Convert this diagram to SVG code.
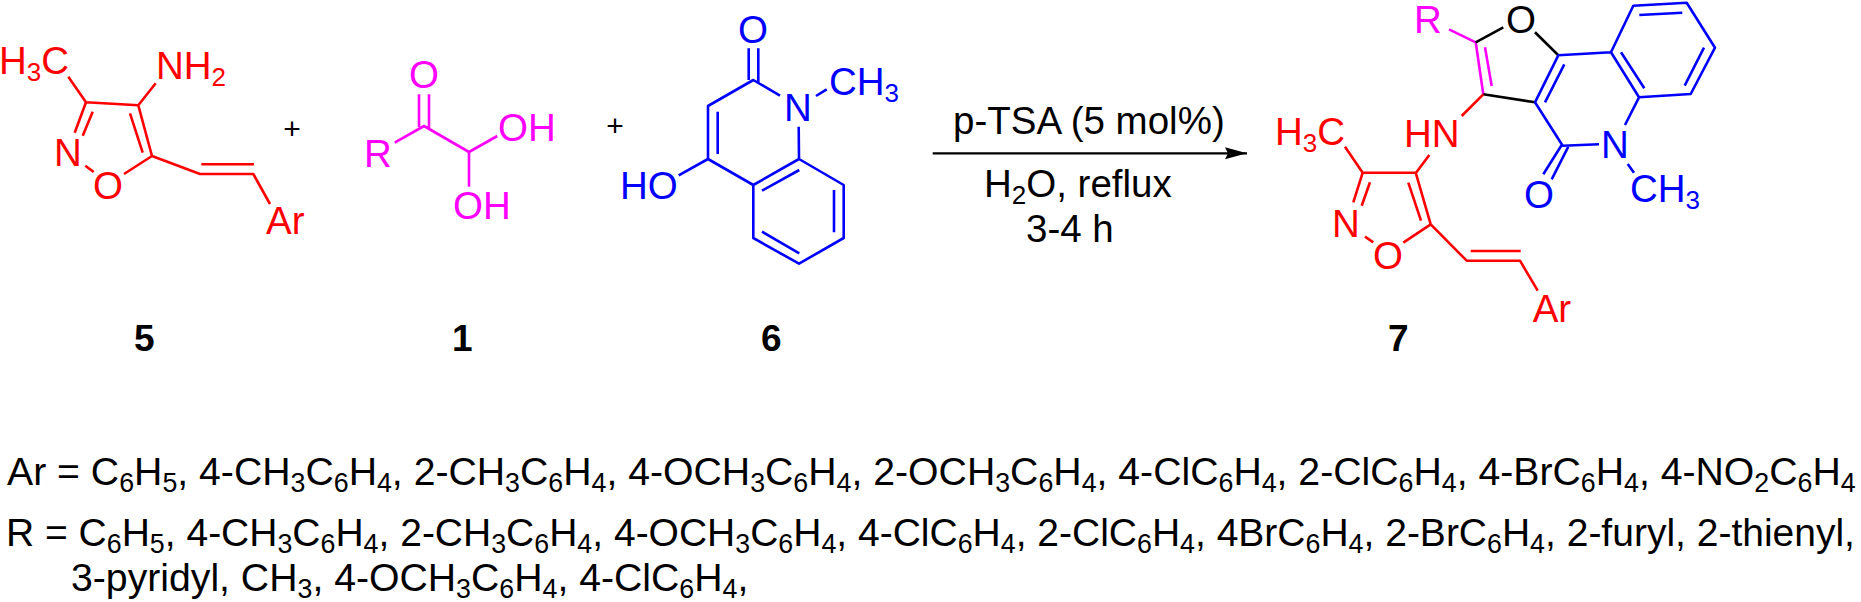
<svg xmlns="http://www.w3.org/2000/svg" width="1861" height="602" viewBox="0 0 1861 602">
<style>
text{font-family:"Liberation Sans",Arial,sans-serif;font-size:38.5px}
.sub{font-size:26px}
.b{stroke-width:2.6;fill:none;stroke-linecap:butt;stroke-linejoin:round}
.red{fill:#f00}.mag{fill:#f0f}.blu{fill:#00f}.blk{fill:#000}
.rs{stroke:#f00}.ms{stroke:#f0f}.bs{stroke:#00f}.ks{stroke:#000}
.num{font-weight:bold;font-size:37px}
.plus{font-size:30px}
.list{font-size:39.2px}
.list2{font-size:39px}
.list .sub,.list2 .sub{font-size:26.8px}
</style>
<defs><marker id="ah" markerUnits="userSpaceOnUse" markerWidth="24" markerHeight="14" refX="22" refY="7" orient="auto"><path d="M0 1L22 7L0 13L3 7Z" fill="#000"/></marker></defs>
<rect width="1861" height="602" fill="#fff"/>
<g id="connectors">
<path class="b rs" d="M86 102.3L138.3 105.3L152 156L124 174M85.3 165.7L93.7 172M86 102.3L74.7 132.7M92.7 111.7L82.7 135.7M130 113.3L142.7 152.7M86 102.3L68.3 76.7M138.3 105.3L155.7 83.3M152 156L200 174L253.3 174L270 204M201.3 164.3L254 164.3"/>
<path class="b ms" d="M419 94.3V127M429 94.3V128M394.7 142.7L424 126L469 152L497.3 136M469 152V186.7"/>
<path class="b bs" d="M748.7 48.3V80M758.3 48.3V82M678.7 175.3L708 159V106L753.3 80L780 95.7M798.7 126.7L799 159L843.7 185V238L799 263.7L753.3 238V185L708 159M753.3 185L799 159M816 96L826.7 89.3M717.7 111.7V154M762 190.7L799.3 170M834 190V232.3M762 231.7L799.3 253.3"/>
<path d="M932.7 153.3H1247" stroke="#000" stroke-width="2.2" fill="none" marker-end="url(#ah)"/>
<path class="b ms" d="M1449 29.3L1475.7 42.3L1483.3 94.3M1485 47.3L1491.7 86"/>
<path class="b ks" d="M1475.7 42.3L1503.3 27.3M1483.3 94.3L1535 102.3M1535 32.3L1558.3 55.3"/>
<path class="b rs" d="M1461.7 116L1483.3 94.3M1345 146.7L1362.7 172.7H1415.7L1430.7 224.3L1403.3 242.7M1429.3 155L1415.7 173.3M1362.7 172.7L1353.3 202.3M1370 182.3L1361.7 205.7M1408.3 182.7L1421 220.7M1365 236.7L1373.3 242.3M1430.7 224.3L1466.7 260.7H1520L1537.7 290.7M1470.7 251H1520.7"/>
<path class="b bs" d="M1535 102.3L1558.3 55.3L1611 52.3L1639 97.3L1690.7 94L1715 47.7L1686.7 2.7L1633.3 5.7L1611 52.3M1621 52.3L1644.3 88.3M1639.3 15L1682.3 12.7M1704 47.7L1684.7 85.7M1564.3 64.3L1545 102.3M1535 102.3L1562.7 145.7L1599 144.3M1639 97.3L1625 125M1627.7 164L1634 172.7M1568.3 146.7L1551.7 179.3M1561.7 145L1543.3 174.3"/>
</g>
<g id="node-5">
<text class="red" x="-1" y="74">H<tspan class="sub" dy="7">3</tspan><tspan dy="-7">C</tspan></text>
<text class="red" x="156" y="79">NH<tspan class="sub" dy="7">2</tspan></text>
<text class="red" x="54" y="166">N</text>
<text class="red" x="93" y="199">O</text>
<text class="red" x="266" y="234">Ar</text>
<text class="blk num" x="134" y="351">5</text>
</g>
<text class="blk plus" id="plus-1" x="292" y="138.7" text-anchor="middle">+</text>
<g id="node-1">
<text class="mag" x="364" y="167">R</text>
<text class="mag" x="409" y="88">O</text>
<text class="mag" x="498" y="141">OH</text>
<text class="mag" x="453" y="219">OH</text>
<text class="blk num" x="452" y="351">1</text>
</g>
<text class="blk plus" id="plus-2" x="615" y="136.3" text-anchor="middle">+</text>
<g id="node-6">
<text class="blu" x="738" y="43">O</text>
<text class="blu" x="784" y="121">N</text>
<text class="blu" x="829" y="95">CH<tspan class="sub" dy="7">3</tspan></text>
<text class="blu" x="620" y="199">HO</text>
<text class="blk num" x="761" y="351">6</text>
</g>
<g id="reaction-conditions">
<text class="blk" x="953" y="134">p-TSA (5 mol%)</text>
<text class="blk" x="984" y="197">H<tspan class="sub" dy="7">2</tspan><tspan dy="-7">O, reflux</tspan></text>
<text class="blk" x="1026" y="242">3-4 h</text>
</g>
<g id="node-7">
<text class="mag" x="1414" y="33">R</text>
<text class="blk" x="1506" y="33">O</text>
<text class="red" x="1275" y="145">H<tspan class="sub" dy="7">3</tspan><tspan dy="-7">C</tspan></text>
<text class="red" x="1404" y="146.7">HN</text>
<text class="red" x="1332" y="237.3">N</text>
<text class="red" x="1373" y="269">O</text>
<text class="red" x="1532.7" y="321.7">Ar</text>
<text class="blu" x="1601" y="158.3">N</text>
<text class="blu" x="1524" y="207.5">O</text>
<text class="blu" x="1630" y="201.7">CH<tspan class="sub" dy="7">3</tspan></text>
<text class="blk num" x="1388" y="351">7</text>
</g>
<g id="legend">
<text class="blk list" x="7" y="485">Ar = C<tspan class="sub" dy="7">6</tspan><tspan dy="-7">H</tspan><tspan class="sub" dy="7">5</tspan><tspan dy="-7">, 4-CH</tspan><tspan class="sub" dy="7">3</tspan><tspan dy="-7">C</tspan><tspan class="sub" dy="7">6</tspan><tspan dy="-7">H</tspan><tspan class="sub" dy="7">4</tspan><tspan dy="-7">, 2-CH</tspan><tspan class="sub" dy="7">3</tspan><tspan dy="-7">C</tspan><tspan class="sub" dy="7">6</tspan><tspan dy="-7">H</tspan><tspan class="sub" dy="7">4</tspan><tspan dy="-7">, 4-OCH</tspan><tspan class="sub" dy="7">3</tspan><tspan dy="-7">C</tspan><tspan class="sub" dy="7">6</tspan><tspan dy="-7">H</tspan><tspan class="sub" dy="7">4</tspan><tspan dy="-7">, 2-OCH</tspan><tspan class="sub" dy="7">3</tspan><tspan dy="-7">C</tspan><tspan class="sub" dy="7">6</tspan><tspan dy="-7">H</tspan><tspan class="sub" dy="7">4</tspan><tspan dy="-7">, 4-ClC</tspan><tspan class="sub" dy="7">6</tspan><tspan dy="-7">H</tspan><tspan class="sub" dy="7">4</tspan><tspan dy="-7">, 2-ClC</tspan><tspan class="sub" dy="7">6</tspan><tspan dy="-7">H</tspan><tspan class="sub" dy="7">4</tspan><tspan dy="-7">, 4-BrC</tspan><tspan class="sub" dy="7">6</tspan><tspan dy="-7">H</tspan><tspan class="sub" dy="7">4</tspan><tspan dy="-7">, 4-NO</tspan><tspan class="sub" dy="7">2</tspan><tspan dy="-7">C</tspan><tspan class="sub" dy="7">6</tspan><tspan dy="-7">H</tspan><tspan class="sub" dy="7">4</tspan></text>
<text class="blk list2" x="6" y="546">R = C<tspan class="sub" dy="7">6</tspan><tspan dy="-7">H</tspan><tspan class="sub" dy="7">5</tspan><tspan dy="-7">, 4-CH</tspan><tspan class="sub" dy="7">3</tspan><tspan dy="-7">C</tspan><tspan class="sub" dy="7">6</tspan><tspan dy="-7">H</tspan><tspan class="sub" dy="7">4</tspan><tspan dy="-7">, 2-CH</tspan><tspan class="sub" dy="7">3</tspan><tspan dy="-7">C</tspan><tspan class="sub" dy="7">6</tspan><tspan dy="-7">H</tspan><tspan class="sub" dy="7">4</tspan><tspan dy="-7">, 4-OCH</tspan><tspan class="sub" dy="7">3</tspan><tspan dy="-7">C</tspan><tspan class="sub" dy="7">6</tspan><tspan dy="-7">H</tspan><tspan class="sub" dy="7">4</tspan><tspan dy="-7">, 4-ClC</tspan><tspan class="sub" dy="7">6</tspan><tspan dy="-7">H</tspan><tspan class="sub" dy="7">4</tspan><tspan dy="-7">, 2-ClC</tspan><tspan class="sub" dy="7">6</tspan><tspan dy="-7">H</tspan><tspan class="sub" dy="7">4</tspan><tspan dy="-7">, 4BrC</tspan><tspan class="sub" dy="7">6</tspan><tspan dy="-7">H</tspan><tspan class="sub" dy="7">4</tspan><tspan dy="-7">, 2-BrC</tspan><tspan class="sub" dy="7">6</tspan><tspan dy="-7">H</tspan><tspan class="sub" dy="7">4</tspan><tspan dy="-7">, 2-furyl, 2-thienyl,</tspan></text>
<text class="blk list" x="71" y="590.7">3-pyridyl, CH<tspan class="sub" dy="7">3</tspan><tspan dy="-7">, 4-OCH</tspan><tspan class="sub" dy="7">3</tspan><tspan dy="-7">C</tspan><tspan class="sub" dy="7">6</tspan><tspan dy="-7">H</tspan><tspan class="sub" dy="7">4</tspan><tspan dy="-7">, 4-ClC</tspan><tspan class="sub" dy="7">6</tspan><tspan dy="-7">H</tspan><tspan class="sub" dy="7">4</tspan><tspan dy="-7">,</tspan></text>
</g>
</svg>
